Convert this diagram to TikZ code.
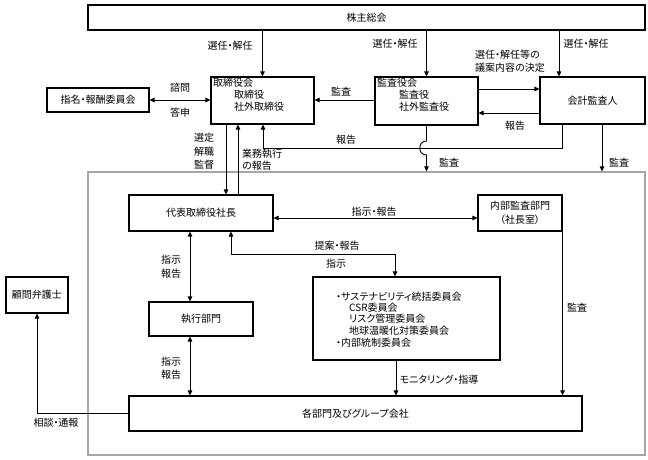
\documentclass[tikz,border=0pt]{standalone}
\usepackage{fontspec}
\setmainfont{Noto Sans CJK JP}[RawFeature={+palt}]
\usetikzlibrary{arrows.meta}
\begin{document}
\begin{tikzpicture}[x=1pt,y=-1pt,
  font=\fontsize{10}{12}\selectfont,
  box/.style={draw,line width=1.1pt,inner sep=0pt},
  lbl/.style={inner sep=0pt},
  tip/.tip={Triangle[length=5pt,width=4.5pt]},
  arr/.style={-tip,line width=0.9pt},
  darr/.style={tip-tip,line width=0.9pt},
  ln/.style={line width=0.9pt}]
\useasboundingbox (0,0) rectangle (648,460);
% frame
\node[draw=black!35,line width=1.2pt,inner sep=0pt,minimum width=557,minimum height=283] (frame) at (366.5,313.5) {};
% boxes
\node[box,minimum width=557,minimum height=25] (kabu) at (366.5,17.5) {株主総会};
\node[box,minimum width=103,minimum height=47] (tori) at (262.5,100.5) {};
\node[lbl,anchor=west] (t1) at (213,83) {取締役会};
\node[lbl,anchor=west] (t2) at (234,95) {取締役};
\node[lbl,anchor=west] (t3) at (234,107) {社外取締役};
\node[box,minimum width=102,minimum height=24] (shimei) at (98,100) {指名・報酬委員会};
\node[box,minimum width=103,minimum height=48] (kansa) at (426.5,101) {};
\node[lbl,anchor=west] (k1) at (377,83) {監査役会};
\node[lbl,anchor=west] (k2) at (399,95) {監査役};
\node[lbl,anchor=west] (k3) at (399,107) {社外監査役};
\node[box,minimum width=105,minimum height=47] (kaikei) at (592.5,100.5) {会計監査人};
\node[box,minimum width=144,minimum height=36] (daihyo) at (201,213) {代表取締役社長};
\node[box,minimum width=84,minimum height=36,align=center,font=\fontsize{10}{14}\selectfont] (naibu) at (520,213) {内部監査部門\\（社長室）};
\node[box,minimum width=187,minimum height=83] (iinkai) at (406.5,318.5) {};
\node[lbl,anchor=west] (c1) at (336,297) {・サステナビリティ統括委員会};
\node[lbl,anchor=west] (c2) at (349,308) {CSR委員会};
\node[lbl,anchor=west] (c3) at (349,319) {リスク管理委員会};
\node[lbl,anchor=west] (c4) at (349,331) {地球温暖化対策委員会};
\node[lbl,anchor=west] (c5) at (336,343) {・内部統制委員会};
\node[box,minimum width=104,minimum height=34] (shikko) at (201,319) {執行部門};
\node[box,minimum width=453,minimum height=35] (kakubu) at (355.5,413.5) {各部門及びグループ会社};
\node[box,minimum width=62,minimum height=36] (komon) at (37,295) {顧問弁護士};
% helper coordinates
\coordinate (x190) at (190,0);
\coordinate (x226) at (226,0);
\coordinate (x231) at (231,0);
\coordinate (x238) at (238,0);
\coordinate (x263) at (263,0);
\coordinate (x395) at (395,0);
\coordinate (x396) at (396,0);
\coordinate (x559) at (559,0);
\coordinate (x562) at (562,0);
\coordinate (x602) at (602,0);
\coordinate (y89) at (0,89);
\coordinate (y100) at (0,100);
\coordinate (y113) at (0,113);
\coordinate (y148) at (0,148);
\coordinate (y218) at (0,218);
\coordinate (y254) at (0,254);
\coordinate (j1) at (426.5,141);
\coordinate (j2) at (426.5,155);
% connectors
\draw[arr] (kabu.south -| tori.north) -- (tori.north);
\draw[arr] (kabu.south -| kansa.north) -- (kansa.north);
\draw[arr] (kabu.south -| x559) -- (kaikei.north -| x559);
\draw[arr] (kansa.east |- y89) -- (kaikei.west |- y89);
\draw[arr] (kaikei.west |- y113) -- (kansa.east |- y113);
\draw[arr] (kansa.west |- y100) -- (tori.east |- y100);
\draw[darr] (shimei.east) -- (tori.west |- shimei.east);
\draw[arr] (tori.south -| x226) -- (daihyo.north -| x226);
\draw[arr] (daihyo.north -| x238) -- (tori.south -| x238);
\draw[arr] (kaikei.south -| x562) -- (x562 |- y148) -- (x263 |- y148) -- (tori.south -| x263);
\draw[arr] (kansa.south) -- (j1) .. controls (417.5,141) and (417.5,155) .. (j2) -- (kansa.south |- frame.north);
\draw[arr] (kaikei.south -| x602) -- (frame.north -| x602);
\draw[darr] (daihyo.east |- y218) -- (naibu.west |- y218);
\draw[darr] (daihyo.south -| x231) -- (x231 |- y254) -- (x395 |- y254) -- (iinkai.north -| x395);
\draw[darr] (daihyo.south -| x190) -- (shikko.north -| x190);
\draw[darr] (shikko.south -| x190) -- (kakubu.north -| x190);
\draw[arr] (iinkai.south -| x396) -- (kakubu.north -| x396);
\draw[arr] (naibu.south east) -- (kakubu.north -| naibu.south east);
\draw[arr] (kakubu.west) -- (komon.south |- kakubu.west) -- (komon.south);
% labels
\node[lbl] (l1) at (230,46) {選任・解任};
\node[lbl] (l2) at (395,44) {選任・解任};
\node[lbl] (l3) at (586,44) {選任・解任};
\node[lbl,anchor=west,align=left,font=\fontsize{10}{13}\selectfont] (l4) at (475,61.5) {選任・解任等の\\議案内容の決定};
\node[lbl] (l5) at (515,126) {報告};
\node[lbl] (l6) at (341,92) {監査};
\node[lbl] (l7) at (180,88) {諮問};
\node[lbl] (l8) at (180,113) {答申};
\node[lbl,align=center,font=\fontsize{10}{13.5}\selectfont] (l9) at (204,151.5) {選定\\解職\\監督};
\node[lbl,anchor=west,align=left] (l10) at (242,160) {業務執行\\の報告};
\node[lbl] (l11) at (346,140) {報告};
\node[lbl] (l12) at (449,163) {監査};
\node[lbl] (l13) at (619,163) {監査};
\node[lbl] (l14) at (374,212) {指示・報告};
\node[lbl] (l15) at (337,246) {提案・報告};
\node[lbl] (l16) at (336,264) {指示};
\node[lbl,align=center,font=\fontsize{10}{14}\selectfont] (l17) at (171,267) {指示\\報告};
\node[lbl,align=center,font=\fontsize{10}{13}\selectfont] (l18) at (171,368) {指示\\報告};
\node[lbl] (l19) at (439,380) {モニタリング・指導};
\node[lbl] (l20) at (577,308) {監査};
\node[lbl] (l21) at (56,423) {相談・通報};
\end{tikzpicture}
\end{document}
